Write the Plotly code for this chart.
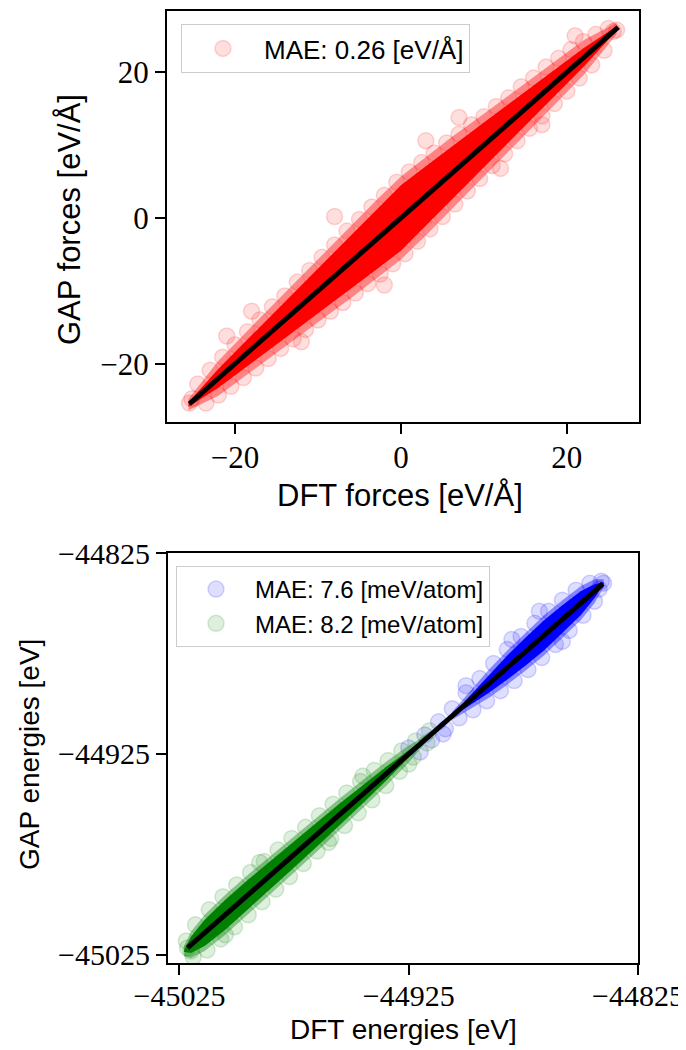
import plotly.graph_objects as go

W, H = 686, 1050
OFF = 8  # default page margin of the browser


def PX(x):
    return (x - OFF) / W


def PY(y):
    return 1 - (y - OFF) / H


# ---------------- Forces panel data (eV/Å) ----------------
force_line = [-25.5, 26.2]

# dense core of the force cloud: x positions and half-widths
force_band_x = [-25.6, -22, -18, -14, -10, -6, -3, 0, 3, 6, 10, 14, 18, 22, 26.0]
force_core_hw = [0.3, 1.3, 1.9, 2.5, 3.1, 3.7, 4.1, 4.5, 4.1, 3.7, 3.1, 2.5, 1.9, 1.3, 0.3]
force_halo_hw = [0.8, 2.4, 3.1, 3.7, 4.3, 5.0, 5.4, 5.7, 5.4, 5.0, 4.3, 3.7, 3.1, 2.4, 0.8]

# individual (fuzzy edge) points
force_dft = [-25.5, -25.2, -24.5, -23.0, -21.5, -20.0, -18.5, -17.0, -15.5, -14.0, -12.5, -11.0,
             -9.5, -8.0, -6.5, -5.0, -3.5, -2.0, -0.5, 1.0, 2.5, 4.0, 5.5, 7.0, 8.5, 10.0,
             11.5, 13.0, 14.5, 16.0, 17.5, 19.0, 20.5, 22.0, 23.5, 25.0, 26.0, 25.6,
             -23.5, -22.0, -20.5, -19.0, -17.5, -16.0, -14.5, -13.0, -11.5, -10.0, -8.5, -7.0,
             -5.5, -4.0, -2.5, -1.0, 0.5, 2.0, 3.5, 5.0, 6.5, 8.0, 9.5, 11.0, 12.5, 14.0,
             15.5, 17.0, 18.5, 20.0, 21.5, 23.0, 24.5,
             -18.0, -8.0, 3.0, 12.0, -2.0, 17.0, -12.0, 7.0, -21.0, 21.0]
force_gap = [-25.4, -24.8, -22.8, -20.9, -19.1, -17.4, -15.6, -14.0, -12.2, -10.7, -8.8, -7.2,
             -5.4, -3.7, -1.8, -0.2, 1.5, 3.1, 4.9, 6.3, 7.6, 8.9, 10.3, 11.5, 12.8, 13.9,
             15.3, 16.5, 18.0, 19.2, 20.7, 21.9, 23.1, 24.2, 25.2, 26.0, 25.8, 25.6,
             -25.4, -24.3, -23.1, -21.9, -20.6, -19.3, -17.9, -16.6, -15.3, -14.0, -12.8, -11.6,
             -10.3, -9.0, -7.7, -6.3, -4.9, -3.2, -1.5, 0.2, 1.9, 3.7, 5.4, 7.2, 8.8, 10.6,
             12.3, 14.0, 15.7, 17.4, 19.2, 21.0, 23.0,
             -12.8, 0.2, 10.6, 6.8, -9.2, 12.8, -17.0, 13.8, -16.2, 25.0]

# ---------------- Energies panel data (eV) ----------------
energy_line = [-45021.5, -44840.3]

green_band_x = [-45023, -45020, -45014, -45005, -44995, -44985, -44975, -44965, -44955,
                -44945, -44935, -44926, -44918]
green_core_hw = [0.5, 4.0, 6.5, 7.5, 7.5, 7.0, 6.5, 6.0, 5.5, 4.5, 3.5, 2.0, 0.5]
green_halo_hw = [2.5, 6.5, 9.0, 10.0, 10.0, 9.5, 9.0, 8.5, 8.0, 7.0, 6.0, 4.5, 2.0]

blue_band_x = [-44906, -44898, -44890, -44882, -44874, -44866, -44858, -44850, -44844, -44840]
blue_core_hw = [0.5, 2.5, 4.5, 6.0, 7.0, 7.5, 7.0, 6.0, 3.5, 0.5]
blue_halo_hw = [2.0, 4.5, 7.0, 8.5, 9.5, 10.0, 9.5, 8.5, 6.0, 2.0]

green_dft = [-45021.5, -45020.0, -45022.0, -45018.0, -45012.0, -45006.0, -45000.0, -44994.0,
             -44988.0, -44982.0, -44976.0, -44970.0, -44964.0, -44958.0, -44952.0, -44946.0,
             -44940.0, -44934.0, -44928.0, -44922.0, -44916.0,
             -45019.0, -45013.0, -45007.0, -45001.0, -44995.0, -44989.0, -44983.0, -44977.0,
             -44971.0, -44965.0, -44959.0, -44953.0, -44947.0, -44941.0, -44935.0, -44929.0,
             -44923.0, -44917.0,
             -44990.0, -44960.0, -44945.0, -45005.0, -44925.0]
green_gap = [-45021.5, -45023.0, -45018.0, -45010.0, -45002.5, -44996.0, -44990.2, -44984.0,
             -44978.5, -44972.8, -44967.0, -44961.5, -44955.7, -44950.0, -44944.4, -44938.7,
             -44933.2, -44928.3, -44923.4, -44918.5, -44913.5,
             -45026.0, -45022.5, -45017.0, -45011.0, -45005.0, -44998.5, -44992.2, -44986.0,
             -44979.5, -44973.3, -44967.0, -44960.6, -44954.3, -44947.8, -44940.7, -44933.6,
             -44926.5, -44919.5,
             -44979.0, -44969.0, -44936.0, -45015.0, -44930.0]

blue_dft = [-44918.0, -44912.0, -44906.0, -44900.0, -44894.0, -44888.0, -44882.0, -44876.0,
            -44870.0, -44864.0, -44858.0, -44852.0, -44846.0, -44841.0, -44840.0, -44842.0,
            -44915.0, -44909.0, -44903.0, -44897.0, -44891.0, -44885.0, -44879.0, -44873.0,
            -44867.0, -44861.0, -44855.0, -44849.0, -44844.0,
            -44880.0, -44868.0, -44900.0, -44910.0, -44858.0, -44925.0, -44920.0]
blue_gap = [-44915.5, -44909.0, -44902.5, -44894.5, -44887.5, -44880.0, -44873.0, -44866.5,
            -44860.0, -44854.0, -44848.5, -44843.5, -44840.0, -44839.0, -44840.0, -44843.0,
            -44918.0, -44912.5, -44907.0, -44903.0, -44898.5, -44893.5, -44888.5, -44883.0,
            -44877.0, -44870.5, -44863.5, -44856.0, -44849.0,
            -44868.0, -44854.0, -44891.0, -44915.0, -44869.0, -44922.0, -44924.0]

force_label = "MAE: 0.26 [eV/Å]"
blue_label = "MAE: 7.6 [meV/atom]"
green_label = "MAE: 8.2 [meV/atom]"

RED, BLUE, GREEN = (255, 0, 0), (0, 0, 255), (0, 128, 0)


def rgba(c, a):
    return f"rgba({c[0]},{c[1]},{c[2]},{a})"


def band(xs, hw):
    up_x = list(xs)
    up_y = [x + h for x, h in zip(xs, hw)]
    lo_x = list(reversed(xs))
    lo_y = [x - h for x, h in zip(reversed(xs), reversed(hw))]
    return up_x + lo_x + [up_x[0]], up_y + lo_y + [up_y[0]]


fig = go.Figure()


def add_cloud(xs, core, halo, px, py, col, name, xa, ya, legend):
    hx, hy = band(xs, halo)
    fig.add_trace(go.Scatter(x=hx, y=hy, mode="lines", fill="toself", line=dict(width=0),
                             fillcolor=rgba(col, 0.4), showlegend=False, hoverinfo="skip",
                             xaxis=xa, yaxis=ya))
    cx, cy = band(xs, core)
    fig.add_trace(go.Scatter(x=cx, y=cy, mode="lines", fill="toself", line=dict(width=0),
                             fillcolor=rgba(col, 1.0), showlegend=False, hoverinfo="skip",
                             xaxis=xa, yaxis=ya))
    fig.add_trace(go.Scatter(x=px, y=py, mode="markers", name=name,
                             marker=dict(size=16, color=rgba(col, 0.13),
                                         line=dict(color=rgba(col, 0.16), width=1.5)),
                             xaxis=xa, yaxis=ya, legend=legend))


add_cloud(force_band_x, force_core_hw, force_halo_hw, force_dft, force_gap, RED,
          force_label, "x", "y", "legend")
fig.add_trace(go.Scatter(x=force_line, y=force_line, mode="lines", showlegend=False,
                         line=dict(color="black", width=5), xaxis="x", yaxis="y"))

add_cloud(blue_band_x, blue_core_hw, blue_halo_hw, blue_dft, blue_gap, BLUE,
          blue_label, "x2", "y2", "legend2")
add_cloud(green_band_x, green_core_hw, green_halo_hw, green_dft, green_gap, GREEN,
          green_label, "x2", "y2", "legend2")
fig.add_trace(go.Scatter(x=energy_line, y=energy_line, mode="lines", showlegend=False,
                         line=dict(color="black", width=5), xaxis="x2", yaxis="y2"))


def axis_common(size):
    return dict(showgrid=False, zeroline=False, showline=True, linecolor="black",
                linewidth=2, mirror=True, ticks="outside", ticklen=10, tickwidth=2,
                tickcolor="black", automargin=False,
                tickfont=dict(family="Liberation Serif", size=size, color="black"))


legend_common = dict(xanchor="left", yanchor="top", bgcolor="rgba(255,255,255,0.8)",
                     bordercolor="#cccccc", borderwidth=1,
                     itemsizing="trace", tracegroupgap=0)

fig.update_layout(
    width=W, height=H, margin=dict(l=0, r=0, t=0, b=0),
    paper_bgcolor="white", plot_bgcolor="white",
    xaxis=dict(domain=[PX(167), PX(639)], range=[-28.2, 28.7], anchor="y",
               tickvals=[-20, 0, 20], ticktext=["−20", "0", "20"], ticklabelstandoff=-3,
               **axis_common(31)),
    yaxis=dict(domain=[PY(422), PY(11)], range=[-28.0, 28.4], anchor="x",
               tickvals=[-20, 0, 20], ticktext=["−20", "0", "20"], **axis_common(31)),
    xaxis2=dict(domain=[PX(168), PX(638)], range=[-45030, -44825], anchor="y2",
                tickvals=[-45025, -44925, -44825], ticktext=["−45025", "−44925", "−44825"],
                ticklabelstandoff=-5, **axis_common(30)),
    yaxis2=dict(domain=[PY(963), PY(553)], range=[-45029, -44825], anchor="x2",
                tickvals=[-45025, -44925, -44825], ticktext=["−45025", "−44925", "−44825"],
                **axis_common(30)),
    legend=dict(x=PX(181), y=PY(24), itemwidth=72,
                font=dict(family="Liberation Sans", size=26, color="black"), **legend_common),
    legend2=dict(x=PX(176), y=PY(566), itemwidth=68,
                 font=dict(family="Liberation Sans", size=24, color="black"), **legend_common),
    showlegend=True,
)

annots = [
    dict(text="DFT forces [eV/Å]", x=PX(400), y=PY(495), textangle=0, size=31),
    dict(text="GAP forces [eV/Å]", x=PX(69), y=PY(220), textangle=-90, size=31),
    dict(text="DFT energies [eV]", x=PX(403), y=PY(1029), textangle=0, size=28),
    dict(text="GAP energies [eV]", x=PX(29), y=PY(755), textangle=-90, size=28),
]
for a in annots:
    fig.add_annotation(xref="paper", yref="paper", showarrow=False, xanchor="center",
                       yanchor="middle", text=a["text"], x=a["x"], y=a["y"],
                       textangle=a["textangle"],
                       font=dict(family="Liberation Sans", size=a["size"], color="black"))

fig.write_html("out.html")
